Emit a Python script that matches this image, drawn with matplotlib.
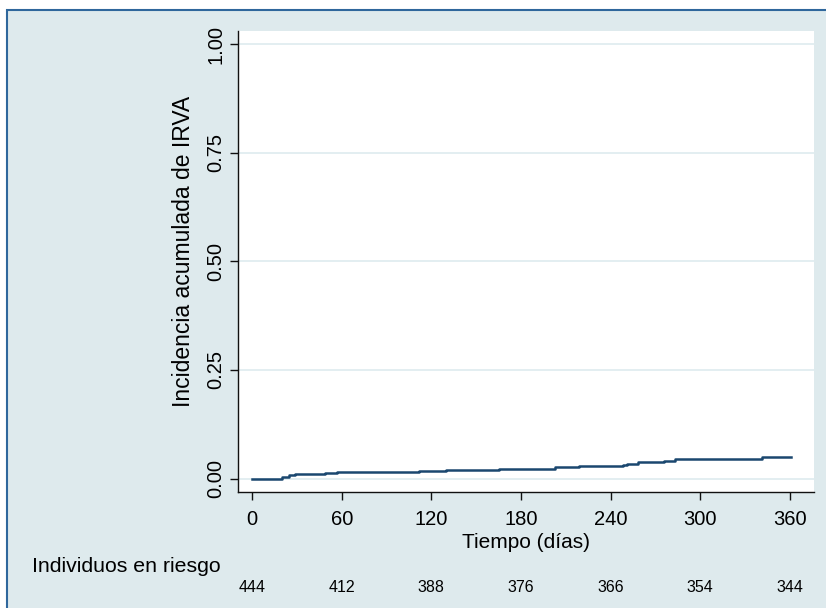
import matplotlib
matplotlib.use("Agg")
import matplotlib.pyplot as plt
import matplotlib.transforms as mtransforms
from matplotlib.patches import Rectangle

plt.rcParams['font.family'] = ['Liberation Sans', 'DejaVu Sans']

# Data
step_days = [0, 20, 25, 29, 49, 57, 112, 130, 165, 185, 203, 219, 248, 251, 258, 276, 283, 329, 341, 361]
step_vals = [0.000, 0.004, 0.007, 0.010, 0.012, 0.015, 0.017, 0.019, 0.021, 0.023, 0.026, 0.028,
             0.031, 0.034, 0.038, 0.040, 0.044, 0.046, 0.049, 0.049]
x_ticks = [0, 60, 120, 180, 240, 300, 360]
y_ticks = [0.00, 0.25, 0.50, 0.75, 1.00]
y_ticklabels = ["0.00", "0.25", "0.50", "0.75", "1.00"]
at_risk = [444, 412, 388, 376, 366, 354, 344]

W, H = 826, 608
fig = plt.figure(figsize=(W / 100, H / 100), dpi=100, facecolor='white')

bg = '#deeaed'
# outer frame
fig.patches.append(Rectangle((7 / W, -0.05), 1.1, (H - 10) / H + 0.05, transform=fig.transFigure,
                             facecolor=bg, edgecolor='#2f679c', linewidth=1.5, zorder=-5))

ax = fig.add_axes([238 / W, 116 / H, (814 - 238) / W, (492 - 31) / H])
ax.set_zorder(2)
ax.set_facecolor('white')
ax.set_xlim(-9.4, 376.1)
ax.set_ylim(-0.031, 1.0304)

for yv in y_ticks:
    ax.axhline(yv, color='#e3eef1', lw=1.4, zorder=1)

ax.step(step_days, step_vals, where='post', color='#1a476f', lw=1.8, zorder=3)

ax.spines['top'].set_visible(False)
ax.spines['right'].set_visible(False)
for s in ['left', 'bottom']:
    ax.spines[s].set_color('#111111')
    ax.spines[s].set_linewidth(1.0)

ax.set_xticks(x_ticks)
ax.set_xticklabels([str(v) for v in x_ticks], fontsize=14.5)
ax.set_yticks(y_ticks)
ax.set_yticklabels(y_ticklabels, fontsize=14.5, rotation=90, va='center')
ax.tick_params(axis='x', length=6, width=1, color='#111111', pad=7)
ax.tick_params(axis='y', length=6, width=1, color='#111111', pad=3)

ax.set_xlabel("Tiempo (días)", fontsize=15, labelpad=3)
fig.text(183 / W, (H - 251) / H, "Incidencia acumulada de IRVA", rotation=90, fontsize=16.5,
         ha='center', va='center', zorder=3)

fig.text(32 / W, (H - 567) / H, "Individuos en riesgo", fontsize=15.3, ha='left', va='center', zorder=3)
trans = mtransforms.blended_transform_factory(ax.transData, fig.transFigure)
for xv, n in zip(x_ticks, at_risk):
    fig.text(xv, (H - 588) / H, str(n), fontsize=11.5, ha='center', va='center', transform=trans, zorder=3)

fig.savefig("out.png", dpi=100, facecolor=fig.get_facecolor())
